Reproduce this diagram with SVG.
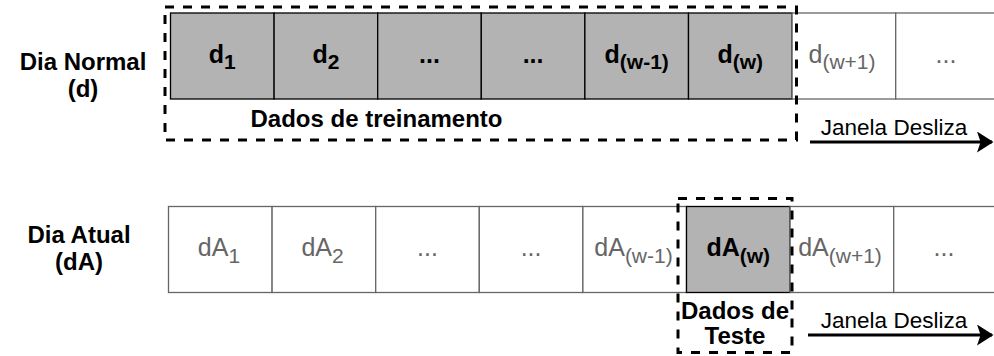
<svg xmlns="http://www.w3.org/2000/svg" width="994" height="356" viewBox="0 0 994 356">
<style>
  text { font-family: "Liberation Sans", Arial, sans-serif; font-size: 24px; text-anchor: middle; }
  .b { font-weight: bold; fill: #000; }
  .g { fill: #666666; }
  .c { font-size: 25px; }
  .sub { font-size: 21px; }
  .cg { fill: #B3B3B3; stroke: #000; stroke-width: 1.3; }
  .cw { fill: #FFFFFF; stroke: #666666; stroke-width: 1.3; }
  .dash { fill: none; stroke: #000; stroke-width: 3; stroke-dasharray: 9 9; }
  .arr { fill: none; stroke: #000; stroke-width: 3; }
  .lbl { font-size: 22.5px; fill: #000; }
</style>
<defs>
  <marker id="ah" markerWidth="5.5" markerHeight="7" refX="5" refY="3.5" orient="auto" markerUnits="strokeWidth">
    <path d="M0,0 L5.5,3.5 L0,7 L1.2,3.5 Z" fill="#000"/>
  </marker>
</defs>

<g id="label-dia-normal">
  <text class="b" x="83" y="70">Dia Normal</text>
  <text class="b" x="83" y="97">(d)</text>
</g>
<g id="label-dia-atual">
  <text class="b" x="79" y="243">Dia Atual</text>
  <text class="b" x="79" y="270">(dA)</text>
</g>

<g id="d1"><rect class="cg" x="170.5" y="13" width="103.6" height="86"/><text class="b c" x="222.3" y="63">d<tspan class="sub" dy="6">1</tspan></text></g>
<g id="d2"><rect class="cg" x="274.1" y="13" width="103.6" height="86"/><text class="b c" x="325.9" y="63">d<tspan class="sub" dy="6">2</tspan></text></g>
<g id="d-dots1"><rect class="cg" x="377.7" y="13" width="103.6" height="86"/><text class="b c" x="429.5" y="63">...</text></g>
<g id="d-dots2"><rect class="cg" x="481.3" y="13" width="103.6" height="86"/><text class="b c" x="533.1" y="63">...</text></g>
<g id="d-w-1"><rect class="cg" x="584.9" y="13" width="103.6" height="86"/><text class="b c" x="636.7" y="63">d<tspan class="sub" dy="6">(w-1)</tspan></text></g>
<g id="d-w"><rect class="cg" x="688.5" y="13" width="103.6" height="86"/><text class="b c" x="740.3" y="63">d<tspan class="sub" dy="6">(w)</tspan></text></g>
<g id="d-w+1"><rect class="cw" x="792.1" y="13" width="103.6" height="86"/><text class="g c" x="842" y="63">d<tspan class="sub" dy="6">(w+1)</tspan></text></g>
<g id="d-dots3"><rect class="cw" x="895.7" y="13" width="103.6" height="86"/><text class="g c" x="946" y="63">...</text></g>

<g id="treino">
  <rect class="dash" x="165" y="7" width="631.5" height="133"/>
  <text class="b" x="376.5" y="127">Dados de treinamento</text>
</g>

<g id="dA1"><rect class="cw" x="168.5" y="206.5" width="103.6" height="86"/><text class="g c" x="219" y="256">dA<tspan class="sub" dy="7">1</tspan></text></g>
<g id="dA2"><rect class="cw" x="272.1" y="206.5" width="103.6" height="86"/><text class="g c" x="322.6" y="256">dA<tspan class="sub" dy="7">2</tspan></text></g>
<g id="dA-dots1"><rect class="cw" x="375.7" y="206.5" width="103.6" height="86"/><text class="g c" x="427.5" y="256">...</text></g>
<g id="dA-dots2"><rect class="cw" x="479.3" y="206.5" width="103.6" height="86"/><text class="g c" x="531.1" y="256">...</text></g>
<g id="dA-w-1"><rect class="cw" x="582.9" y="206.5" width="103.6" height="86"/><text class="g c" x="633.5" y="256">dA<tspan class="sub" dy="7">(w-1)</tspan></text></g>
<g id="dA-w"><rect class="cg" x="686.5" y="206.5" width="103.6" height="86"/><text class="b c" x="738.3" y="256">dA<tspan class="sub" dy="7">(w)</tspan></text></g>
<g id="dA-w+1"><rect class="cw" x="790.1" y="206.5" width="103.6" height="86"/><text class="g c" x="840" y="256">dA<tspan class="sub" dy="7">(w+1)</tspan></text></g>
<g id="dA-dots3"><rect class="cw" x="893.7" y="206.5" width="103.6" height="86"/><text class="g c" x="944" y="256">...</text></g>

<g id="teste">
  <rect class="dash" x="678" y="198.5" width="114" height="154"/>
  <text class="b" x="735" y="319">Dados de</text>
  <text class="b" x="735" y="344">Teste</text>
</g>

<g id="connectors">
  <line class="arr" x1="810" y1="142" x2="992" y2="142" marker-end="url(#ah)"/>
  <line class="arr" x1="808" y1="335" x2="992" y2="335" marker-end="url(#ah)"/>
</g>
<g id="slide-labels">
  <text class="lbl" x="894" y="135">Janela Desliza</text>
  <text class="lbl" x="894" y="328">Janela Desliza</text>
</g>
</svg>
